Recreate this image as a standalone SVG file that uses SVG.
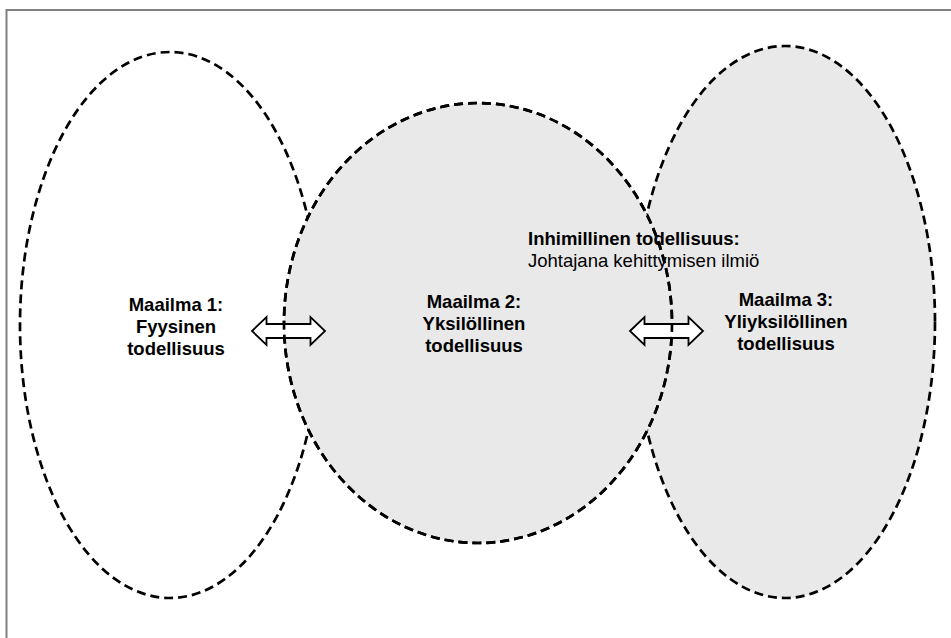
<svg xmlns="http://www.w3.org/2000/svg" width="951" height="638" viewBox="0 0 951 638">
  <defs>
    <style>
      .world { stroke: #000; stroke-width: 2.7; stroke-dasharray: 9 5; }
      .plain { fill: #fff; }
      .shaded { fill: #e9e9e9; }
      .outline { fill: none; stroke: #000; stroke-width: 2.7; stroke-dasharray: 9 5; }
      .label { font-family: "Liberation Sans", Arial, sans-serif; font-size: 18.5px; fill: #000; }
      .bold { font-weight: bold; }
      .mid { text-anchor: middle; }
      .link { fill: #fff; stroke: #000; stroke-width: 1.8; stroke-linejoin: miter; }
    </style>
    <!-- double-headed block arrow, centred on the origin -->
    <path id="dbl-arrow" d="M-36.5 0 L-22 -14 L-22 -7 L22 -7 L22 -14 L36.5 0 L22 14 L22 7 L-22 7 L-22 14 Z"/>
  </defs>

  <rect width="951" height="638" fill="#fff"/>
  <!-- frame: only the top and left edges fall inside the canvas -->
  <path d="M6.5 638 V10 H951" fill="none" stroke="#808080" stroke-width="2"/>

  <g id="world-1">
    <ellipse class="world plain" cx="170" cy="325" rx="150" ry="273"/>
  </g>
  <g id="world-3">
    <ellipse class="world shaded" cx="785" cy="322" rx="150" ry="276"/>
  </g>
  <g id="world-2">
    <ellipse class="world shaded" cx="478" cy="323" rx="194" ry="220"/>
  </g>

  <g id="connectors">
    <use href="#dbl-arrow" class="link" transform="translate(288.5 331)"/>
    <use href="#dbl-arrow" class="link" transform="translate(666.5 331)"/>
    <!-- the edge of world 2 runs over both arrows -->
    <ellipse class="outline" cx="478" cy="323" rx="194" ry="220"/>
  </g>

  <g id="label-world-1" class="label bold mid">
    <text x="176" y="310.5">Maailma 1:</text>
    <text x="176" y="332.5">Fyysinen</text>
    <text x="176" y="354.5">todellisuus</text>
  </g>
  <g id="label-world-2" class="label bold mid">
    <text x="474" y="308">Maailma 2:</text>
    <text x="474" y="330">Yksilöllinen</text>
    <text x="474" y="352">todellisuus</text>
  </g>
  <g id="label-world-3" class="label bold mid">
    <text x="786" y="306">Maailma 3:</text>
    <text x="786" y="328">Yliyksilöllinen</text>
    <text x="786" y="350">todellisuus</text>
  </g>
  <g id="label-human" class="label">
    <text x="528" y="245" class="bold">Inhimillinen todellisuus:</text>
    <text x="528" y="266.5">Johtajana kehittymisen ilmiö</text>
  </g>
</svg>
